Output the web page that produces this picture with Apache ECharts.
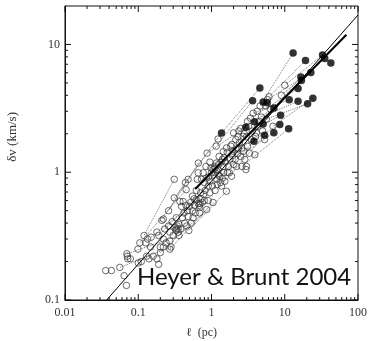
<!DOCTYPE html>
<html><head><meta charset="utf-8">
<script src="https://cdn.jsdelivr.net/npm/echarts@6/dist/echarts.min.js"></script>
<style>html,body{margin:0;padding:0;background:#fff}#c{width:377px;height:341px}</style>
</head><body><div id="c"></div>
<script>
const xTickLabels = ['0.01', '0.1', '1', '10', '100'];
const yTickLabels = ['0.1', '1', '10'];
const xMajor = [0.01, 0.1, 1, 10, 100];
const yMajor = [0.1, 1, 10];
const xMinor = [0.02,0.03,0.04,0.05,0.06,0.07,0.08,0.09,0.2,0.3,0.4,0.5,0.6,0.7,0.8,0.9,2,3,4,5,6,7,8,9,20,30,40,50,60,70,80,90];
const yMinor = [0.2,0.3,0.4,0.5,0.6,0.7,0.8,0.9,2,3,4,5,6,7,8,9];
const xRange = [0.01, 100];
const yRange = [0.1, 20];

const openPoints = [
[0.036,0.17],[0.043,0.17],[0.056,0.18],[0.064,0.155],[0.069,0.13],[0.07,0.23],[0.071,0.22],[0.072,0.21],[0.078,0.21],
[0.099,0.25],[0.1,0.195],[0.105,0.28],[0.12,0.32],[0.127,0.28],[0.13,0.22],[0.134,0.30],[0.147,0.26],[0.15,0.31],
[0.18,0.34],[0.19,0.19],[0.19,0.32],[0.2,0.235],[0.18,0.21],[0.2,0.26],[0.22,0.30],[0.21,0.42],[0.22,0.43],[0.26,0.5],
[0.27,0.34],[0.28,0.26],[0.27,0.29],[0.27,0.25],[0.31,0.88],[0.31,0.63],[0.33,0.44],[0.32,0.37],[0.33,0.35],[0.35,0.34],
[0.36,0.32],[0.37,0.59],[0.39,0.54],[0.38,0.36],[0.40,0.44],[0.41,0.59],[0.42,0.48],[0.44,0.83],[0.45,0.73],[0.47,0.50],
[0.48,0.88],[0.48,0.45],[0.49,0.35],[0.50,0.54],[0.53,0.40],[0.55,0.65],[0.56,0.44],[0.59,0.55],[0.62,0.61],[0.64,0.88],
[0.66,0.99],[0.66,1.18],[0.69,0.48],[0.71,0.69],[0.73,0.88],[0.75,0.58],[0.77,0.99],[0.78,0.67],[0.80,0.83],[0.84,1.11],
[0.86,0.51],[0.87,1.41],[0.90,0.60],[0.95,0.69],[1.0,0.99],[1.03,0.78],[1.05,0.58],[1.1,1.11],[1.13,0.99],[1.16,1.18],
[1.19,0.88],[1.23,1.05],[1.27,1.33],[1.30,0.93],[1.33,0.83],[1.37,0.78],[1.16,1.6],[1.23,1.82],[1.41,1.26],[1.44,1.11],
[1.47,0.99],[1.52,0.85],[1.6,0.71],[1.64,1.43],[1.7,1.11],[1.75,0.99],[1.79,1.27],[1.83,1.6],[1.88,0.93],[1.97,1.46],
[2.0,2.03],[2.1,1.26],[2.15,1.8],[2.2,1.11],[2.3,1.52],[2.36,2.1],[2.4,1.7],[2.5,1.33],[2.6,1.11],[2.7,1.91],[2.75,1.46],
[2.85,1.26],[2.95,1.05],[3.0,1.11],[3.1,1.6],[3.2,2.29],[3.3,1.41],[3.4,2.65],[3.5,1.8],[3.7,2.9],[3.9,1.37],[4.1,2.03],
[4.3,2.29],[4.6,3.3],[4.8,2.7],[5.0,2.1],[5.3,1.8],[5.6,2.6],[6.1,3.9],[6.4,3.1],[6.9,2.29],[9.0,4.0],[10,4.8],
[0.34,0.38],[0.35,0.36],[0.36,0.39],[0.33,0.36],[0.68,0.55],[0.7,0.57],[0.66,0.57],[0.69,0.53],
[1.05,1.05],[1.12,1.08],[1.18,1.02],[0.98,1.08],[1.08,0.95],[1.25,1.15],[1.35,1.2],[1.5,1.3],[1.55,1.2],[1.25,0.95],
[0.92,0.92],[0.95,1.2],[1.6,1.55],[1.9,1.65],[1.95,1.35],[2.25,1.4],[2.3,1.9],[2.6,1.55],[2.0,1.15],[1.65,1.0],[1.45,1.45],
[0.6,0.48],[0.58,0.62],[0.52,0.58],[0.45,0.55],[0.62,0.72],[0.72,0.62],[0.82,0.72],[0.85,0.9],[0.9,0.78],[0.95,0.85],
[0.8,0.6],[1.12,0.72],[1.2,0.8],[1.4,0.9],[0.22,0.26],[0.24,0.28],[0.26,0.38],[0.29,0.41],[0.16,0.22],[0.11,0.2],
[0.14,0.21],[0.23,0.36],[0.3,0.32],[0.43,0.4],[0.46,0.38],[0.55,0.5],[2.8,2.0],[3.1,2.5],[2.5,2.2],[4.0,1.9],[4.5,2.5],
[3.6,2.1],[5.5,3.3],[5.8,3.7],[4.2,3.0],[3.0,1.9]
];

const filledPoints = [
[13.0,8.57],[19.2,7.5],[32.8,8.26],[35.2,7.78],[42.6,7.16],[22.7,6.04],[16.6,5.56],[16.9,5.23],[15.2,4.53],[4.57,4.56],
[3.64,3.63],[5.07,3.55],[5.75,3.50],[11.5,3.70],[15.2,3.59],[20.5,3.44],[24.2,3.79],[7.10,3.18],[8.77,2.79],[3.87,2.48],
[5.07,2.39],[8.57,2.36],[2.94,2.25],[7.10,2.04],[11.3,2.19],[5.30,1.95],[3.79,1.75],[1.37,2.03]
];

const fitAll = [[0.037,0.1],[100,17]];
const fitFilled = [[0.6,0.74],[69.4,11.9]];

const links = [
[[13,8.57],[4.6,3.3]],[[19.2,7.5],[6.1,3.9]],[[32.8,8.26],[10,4.8]],[[35.2,7.78],[9,4.0]],[[16.6,5.56],[4.3,2.29]],
[[22.7,6.04],[5.8,3.7]],[[15.2,4.53],[3.4,2.65]],[[4.57,4.56],[1.37,2.03]],[[3.64,3.63],[1.16,1.6]],[[11.5,3.7],[3.7,2.9]],
[[24.2,3.79],[6.9,2.29]],[[20.5,3.44],[5.6,2.6]],[[15.2,3.59],[4.8,2.7]],[[7.1,3.18],[2.36,2.1]],[[8.77,2.79],[2.7,1.91]],
[[11.3,2.19],[2.6,1.11]],[[8.57,2.36],[2.3,1.52]],[[5.3,1.95],[1.52,0.85]],[[3.79,1.75],[1.0,0.78]],[[7.1,2.04],[2.1,1.26]],
[[2.94,2.25],[0.87,1.41]],[[1.37,2.03],[0.48,0.88]],
[[0.31,0.88],[0.12,0.32]],[[0.44,0.83],[0.21,0.42]],[[0.66,1.18],[0.26,0.5]],[[0.87,1.41],[0.31,0.63]],[[0.71,0.69],[0.19,0.32]],
[[0.5,0.54],[0.15,0.31]],[[0.45,0.73],[0.105,0.28]],[[0.36,0.32],[0.07,0.23]],[[0.28,0.26],[0.056,0.18]],[[1.6,0.71],[0.49,0.35]],
[[1.05,0.58],[0.27,0.25]],[[0.86,0.51],[0.2,0.235]]
];

// tick marks: [x, y, side, length]  side 0=bottom,1=top,2=left,3=right
const tickData = [];
xMajor.forEach(v => { tickData.push([v, yRange[0], 0, 6]); tickData.push([v, yRange[1], 1, 6]); });
xMinor.forEach(v => { tickData.push([v, yRange[0], 0, 3]); tickData.push([v, yRange[1], 1, 3]); });
yMajor.forEach(v => { tickData.push([xRange[0], v, 2, 6]); tickData.push([xRange[1], v, 3, 6]); });
yMinor.forEach(v => { tickData.push([xRange[0], v, 2, 3]); tickData.push([xRange[1], v, 3, 3]); });

const serif = 'Liberation Serif';
const chart = echarts.init(document.getElementById('c'), null, {renderer: 'canvas'});
chart.setOption({
  animation: false,
  backgroundColor: '#fff',
  grid: {left: 65, right: 19, top: 6, bottom: 41, show: true, borderColor: '#111', borderWidth: 1},
  xAxis: {
    type: 'log', logBase: 10, min: xRange[0], max: xRange[1],
    axisLine: {show: true, lineStyle: {color: '#111', width: 1}},
    axisTick: {show: false}, splitLine: {show: false},
    axisLabel: {fontFamily: serif, fontSize: 12, color: '#333', margin: 7,
      formatter: v => { const i = xMajor.findIndex(m => Math.abs(Math.log10(m) - Math.log10(v)) < 1e-6); return i >= 0 ? xTickLabels[i] : ''; }}
  },
  yAxis: {
    type: 'log', logBase: 10, min: yRange[0], max: yRange[1],
    axisLine: {show: true, lineStyle: {color: '#111', width: 1}},
    axisTick: {show: false}, splitLine: {show: false},
    axisLabel: {fontFamily: serif, fontSize: 12, color: '#333', margin: 5, showMaxLabel: false,
      formatter: v => { const i = yMajor.findIndex(m => Math.abs(Math.log10(m) - Math.log10(v)) < 1e-6); return i >= 0 ? yTickLabels[i] : ''; }}
  },
  graphic: [
    {type: 'text', left: 6, top: 112, rotation: Math.PI / 2,
      style: {text: 'δv (km/s)', font: '13px "Liberation Serif"', fill: '#333'}},
    {type: 'text', left: 186, top: 327,
      style: {text: 'ℓ  (pc)', font: '12px "Liberation Serif"', fill: '#333'}},
    {type: 'text', left: 137, top: 265, z: 100,
      style: {text: 'Heyer & Brunt 2004', font: '24px Lato', fill: '#111'}}
  ],
  series: [
    {type: 'lines', coordinateSystem: 'cartesian2d', silent: true, z: 1,
      lineStyle: {type: 'dotted', color: '#777', width: 1, opacity: 1},
      data: links.map(p => ({coords: p}))},
    {type: 'line', data: fitAll, showSymbol: false, symbol: 'none', z: 3,
      lineStyle: {color: '#000', width: 1}},
    {type: 'line', data: fitFilled, showSymbol: false, symbol: 'none', z: 3,
      lineStyle: {color: '#000', width: 2}},
    {type: 'scatter', data: openPoints, symbol: 'circle', symbolSize: 6.5, z: 2,
      itemStyle: {color: 'rgba(255,255,255,0)', borderColor: '#333', borderWidth: 0.9}},
    {type: 'scatter', data: filledPoints, symbol: 'circle', symbolSize: 7.5, z: 4,
      itemStyle: {color: '#000', borderColor: '#000', borderWidth: 0}},
    {type: 'custom', data: tickData, clip: false, silent: true, z: 5,
      encode: {x: 0, y: 1},
      renderItem: (params, api) => {
        const p = api.coord([api.value(0), api.value(1)]);
        const side = api.value(2), len = api.value(3);
        let x2 = p[0], y2 = p[1];
        if (side === 0) y2 -= len; else if (side === 1) y2 += len;
        else if (side === 2) x2 += len; else x2 -= len;
        return {type: 'line', shape: {x1: p[0], y1: p[1], x2: x2, y2: y2},
          style: {stroke: '#111', lineWidth: 1}};
      }}
  ]
});
</script></body></html>
